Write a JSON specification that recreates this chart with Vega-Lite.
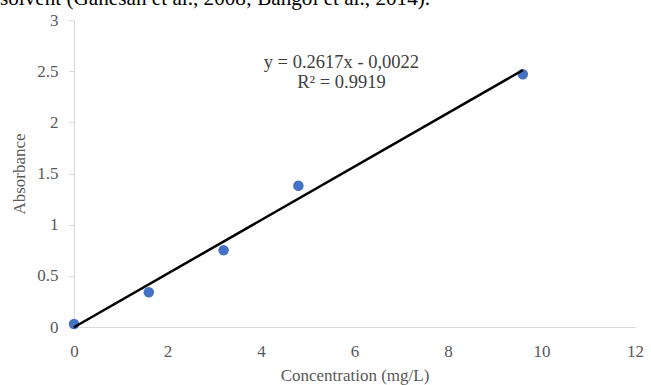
{
  "$schema": "https://vega.github.io/schema/vega-lite/v6.json",
  "width": 561,
  "height": 307,
  "autosize": {"type": "none"},
  "padding": {"left": 74, "top": 20, "right": 16, "bottom": 58},
  "background": "white",
  "title": {
    "text": "solvent (Ganesan et al., 2008; Bangol et al., 2014).",
    "anchor": "start",
    "frame": "group",
    "font": "Liberation Serif",
    "fontSize": 21.2,
    "fontWeight": "normal",
    "color": "#000000",
    "baseline": "alphabetic",
    "offset": 0,
    "dx": -74,
    "dy": 15
  },
  "config": {
    "view": {"stroke": null},
    "axis": {
      "labelFont": "Liberation Serif",
      "titleFont": "Liberation Serif",
      "labelFontSize": 17,
      "titleFontSize": 17,
      "labelColor": "#595959",
      "titleColor": "#595959",
      "titleFontWeight": "normal",
      "domainColor": "#d9d9d9",
      "tickColor": "#d9d9d9",
      "labelFlush": false,
      "format": "~g",
      "grid": false
    }
  },
  "datasets": {
    "pts": [
      {"conc": 0, "abs": 0.03},
      {"conc": 1.6, "abs": 0.34},
      {"conc": 3.2, "abs": 0.75},
      {"conc": 4.8, "abs": 1.38},
      {"conc": 9.6, "abs": 2.47}
    ],
    "fit": [
      {"conc": 0, "abs": -0.0022},
      {"conc": 9.6, "abs": 2.51012}
    ],
    "notes": [
      {"conc": 5.72, "abs": 2.59, "label": "y = 0.2617x - 0,0022"},
      {"conc": 5.72, "abs": 2.395, "label": "R² = 0.9919"}
    ]
  },
  "layer": [
    {
      "data": {"name": "pts"},
      "mark": {"type": "point", "filled": true, "opacity": 1, "size": 110, "color": "#4472c4"},
      "encoding": {
        "x": {
          "field": "conc", "type": "quantitative",
          "scale": {"domain": [0, 12], "nice": false, "zero": true},
          "axis": {"values": [0, 2, 4, 6, 8, 10, 12], "ticks": false, "labelPadding": 16, "title": "Concentration (mg/L)", "titlePadding": 8}
        },
        "y": {
          "field": "abs", "type": "quantitative",
          "scale": {"domain": [0, 3], "nice": false},
          "axis": {"values": [0, 0.5, 1, 1.5, 2, 2.5, 3], "tickSize": 5, "labelPadding": 11, "title": "Absorbance", "titlePadding": 8}
        }
      }
    },
    {
      "data": {"name": "fit"},
      "mark": {"type": "line", "color": "#000000", "strokeWidth": 2.5, "clip": false},
      "encoding": {
        "x": {"field": "conc", "type": "quantitative"},
        "y": {"field": "abs", "type": "quantitative"}
      }
    },
    {
      "data": {"name": "notes"},
      "mark": {"type": "text", "font": "Liberation Serif", "fontSize": 18.5, "color": "#404040", "align": "center", "baseline": "middle"},
      "encoding": {
        "x": {"field": "conc", "type": "quantitative"},
        "y": {"field": "abs", "type": "quantitative"},
        "text": {"field": "label"}
      }
    }
  ]
}
